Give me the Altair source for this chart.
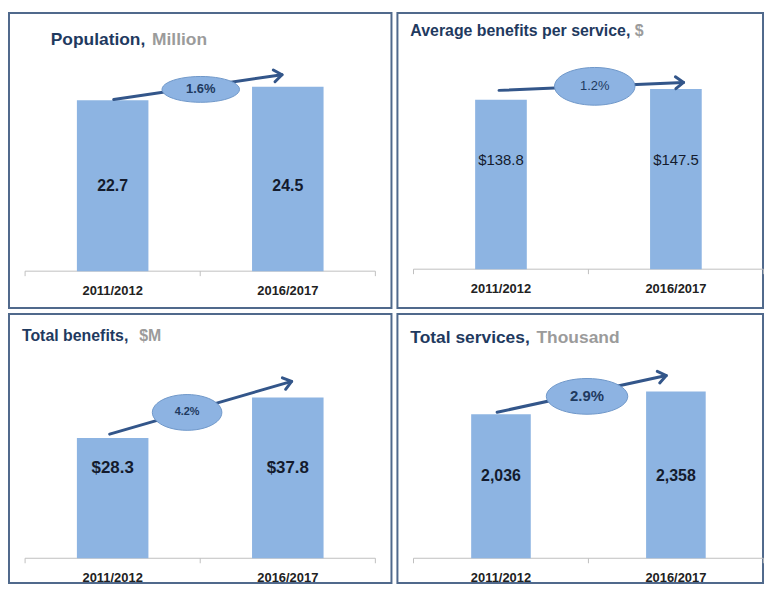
import math
import altair as alt
import pandas as pd

# ---------------- data ----------------
periods = ["2011/2012", "2016/2017"]
population = [22.7, 24.5]
avg_benefit = [138.8, 147.5]
total_benefits = [28.3, 37.8]
total_services = [2036, 2358]
labels_population = ["22.7", "24.5"]
labels_avg_benefit = ["$138.8", "$147.5"]
labels_total_benefits = ["$28.3", "$37.8"]
labels_total_services = ["2,036", "2,358"]
growth_labels = ["1.6%", "1.2%", "4.2%", "2.9%"]
title_main = ["Population,", "Average benefits per service,", "Total benefits,", "Total services,"]
title_unit = ["Million", "$", "$M", "Thousand"]

# ---------------- styling / layout ----------------
FONT = "Liberation Sans"
BAR = "#8DB4E2"
ELL_FILL = "#8DB3E2"
ELL_STROKE = "#6F97C9"
ARROW = "#33568A"
BORDER = "#50698C"
NAVY = "#1F3A5F"
GREY = "#9B9B9B"
DARK = "#141B2D"
AXIS = "#BFBFBF"

X0 = 102.0   # pixel position of first bar centre inside a panel
SX = 181.0   # pixels between bar centres

panels = [
    dict(values=population, labels=labels_population, growth=growth_labels[0],
         tmain=title_main[0], tunit=title_unit[0],
         W=385, H=297, base=260, k=7.577, bw=72,
         label_y=11.3, label_size=16, label_weight="bold",
         start=(0.006, 22.8), end=(0.967, 26.1), ell=(0.503, 24.15), ew=78, eh=26,
         gsize=13, gweight="bold",
         tx=42, ty=32, tux=144, tsize=17.5),
    dict(values=avg_benefit, labels=labels_avg_benefit, growth=growth_labels[1],
         tmain=title_main[1], tunit=title_unit[1],
         W=368, H=297, base=258, k=1.2295, bw=52,
         label_y=89.1, label_size=15, label_weight="normal",
         start=(-0.011, 146.4), end=(1.044, 152.9), ell=(0.536, 149.7), ew=81, eh=38,
         gsize=13, gweight="normal",
         tx=13, ty=23, tux=239, tsize=16),
    dict(values=total_benefits, labels=labels_total_benefits, growth=growth_labels[2],
         tmain=title_main[2], tunit=title_unit[2],
         W=385, H=271, base=246, k=4.28, bw=72,
         label_y=21.3, label_size=17, label_weight="bold",
         start=(-0.017, 29.2), end=(1.022, 41.6), ell=(0.425, 34.3), ew=70, eh=36,
         gsize=11, gweight="bold",
         tx=13, ty=27, tux=131, tsize=16),
    dict(values=total_services, labels=labels_total_services, growth=growth_labels[3],
         tmain=title_main[3], tunit=title_unit[3],
         W=368, H=271, base=246, k=0.0712, bw=60,
         label_y=1159, label_size=16, label_weight="bold",
         start=(-0.022, 2065), end=(0.945, 2584), ell=(0.492, 2289), ew=82, eh=36,
         gsize=15, gweight="bold",
         tx=13, ty=29, tux=140, tsize=17.5),
]


def ellipse_path(ratio, n=48):
    pts = []
    for j in range(n):
        a = 2 * math.pi * j / n
        pts.append(f"{math.cos(a):.4f} {ratio * math.sin(a):.4f}")
    return "M " + " L ".join(pts) + " Z"


CHEVRON = "M -1 -0.75 L 0 0 L -1 0.75"


def make_panel(p):
    W, H, base, k = p["W"], p["H"], p["base"], p["k"]
    xs = alt.Scale(domain=[-X0 / SX, (W - X0) / SX], nice=False, zero=False)
    ys = alt.Scale(domain=[-(H - base) / k, base / k], nice=False, zero=False)

    bars_df = pd.DataFrame({"i": [0, 1], "period": periods, "v": p["values"],
                            "lab": p["labels"], "zero": [0, 0],
                            "ly": [p["label_y"], p["label_y"]]})

    bars = alt.Chart(bars_df).mark_bar(size=p["bw"], color=BAR, orient="vertical").encode(
        x=alt.X("i:Q", scale=xs, axis=None),
        y=alt.Y("v:Q", scale=ys, axis=None),
        y2="zero:Q",
    )

    vlabels = alt.Chart(bars_df).mark_text(
        font=FONT, fontSize=p["label_size"], fontWeight=p["label_weight"], color=DARK,
        baseline="middle", align="center",
    ).encode(
        x=alt.X("i:Q", scale=xs, axis=None),
        y=alt.Y("ly:Q", scale=ys, axis=None),
        text="lab:N",
    )

    xlabels = alt.Chart(bars_df).mark_text(
        font=FONT, fontSize=13, fontWeight="bold", color="#222222",
        baseline="middle", align="center", dy=20,
    ).encode(
        x=alt.X("i:Q", scale=xs, axis=None),
        y=alt.Y("zero:Q", scale=ys, axis=None),
        text="period:N",
    )

    base_df = pd.DataFrame({"a": [-0.5], "b": [1.5], "zero": [0]})
    baseline = alt.Chart(base_df).mark_rule(color=AXIS, strokeWidth=1).encode(
        x=alt.X("a:Q", scale=xs, axis=None), x2="b:Q",
        y=alt.Y("zero:Q", scale=ys, axis=None),
    )
    tick_df = pd.DataFrame({"t": [-0.5, 0.5, 1.5], "zero": [0, 0, 0]})
    ticks = alt.Chart(tick_df).mark_rule(color=AXIS, strokeWidth=1, y2Offset=5).encode(
        x=alt.X("t:Q", scale=xs, axis=None),
        y=alt.Y("zero:Q", scale=ys, axis=None), y2="zero:Q",
    )

    (ax0, ay0), (ax1, ay1) = p["start"], p["end"]
    arrow_df = pd.DataFrame({"x0": [ax0], "y0": [ay0], "x1": [ax1], "y1": [ay1]})
    line = alt.Chart(arrow_df).mark_rule(color=ARROW, strokeWidth=3, strokeCap="round").encode(
        x=alt.X("x0:Q", scale=xs, axis=None), y=alt.Y("y0:Q", scale=ys, axis=None),
        x2="x1:Q", y2="y1:Q",
    )
    dxp = (ax1 - ax0) * SX
    dyp = -(ay1 - ay0) * k
    ang = math.degrees(math.atan2(dyp, dxp)) % 360
    head = alt.Chart(arrow_df).mark_point(
        shape=CHEVRON, filled=False, stroke=ARROW, strokeWidth=3, size=256, angle=ang,
        opacity=1, strokeCap="round", strokeJoin="round",
    ).encode(
        x=alt.X("x1:Q", scale=xs, axis=None), y=alt.Y("y1:Q", scale=ys, axis=None),
    )

    ex, ey = p["ell"]
    ell_df = pd.DataFrame({"x": [ex], "y": [ey], "g": [p["growth"]]})
    ellipse = alt.Chart(ell_df).mark_point(
        shape=ellipse_path(p["eh"] / p["ew"]), filled=True, fill=ELL_FILL, fillOpacity=1,
        stroke=ELL_STROKE, strokeWidth=1, opacity=1, size=p["ew"] ** 2,
    ).encode(
        x=alt.X("x:Q", scale=xs, axis=None), y=alt.Y("y:Q", scale=ys, axis=None),
    )
    gtext = alt.Chart(ell_df).mark_text(
        font=FONT, fontSize=p["gsize"], fontWeight=p["gweight"], color="#1F3A5F",
        baseline="middle", align="center",
    ).encode(
        x=alt.X("x:Q", scale=xs, axis=None), y=alt.Y("y:Q", scale=ys, axis=None),
        text="g:N",
    )

    t_df = pd.DataFrame({"m": [p["tmain"]], "u": [p["tunit"]]})
    t_main = alt.Chart(t_df).mark_text(
        font=FONT, fontSize=p["tsize"], fontWeight="bold", color=NAVY,
        align="left", baseline="alphabetic",
    ).encode(x=alt.value(p["tx"]), y=alt.value(p["ty"]), text="m:N")
    t_unit = alt.Chart(t_df).mark_text(
        font=FONT, fontSize=p["tsize"], fontWeight="bold", color=GREY,
        align="left", baseline="alphabetic",
    ).encode(x=alt.value(p["tux"]), y=alt.value(p["ty"]), text="u:N")

    return alt.layer(
        baseline, ticks, bars, vlabels, xlabels, line, head, ellipse, gtext, t_main, t_unit
    ).properties(width=W, height=H)


p1, p2, p3, p4 = [make_panel(p) for p in panels]

chart = alt.vconcat(
    alt.hconcat(p1, p2, spacing=4),
    alt.hconcat(p3, p4, spacing=4),
    spacing=4,
).properties(
    padding={"left": 0, "top": 2, "right": 0, "bottom": 0},
    background="white",
).configure_view(
    stroke=BORDER, strokeWidth=2, fill="white",
)

chart.save("out.html", embed_options={"renderer": "svg", "actions": False})
